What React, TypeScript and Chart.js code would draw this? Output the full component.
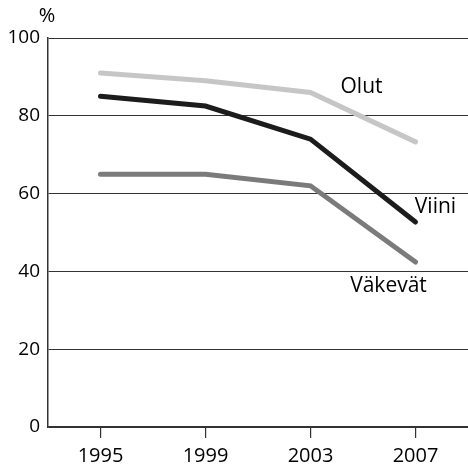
import React, { useEffect, useRef } from "react";
import { Chart, registerables } from "chart.js";

Chart.register(...registerables);

const years = ["1995", "1999", "2003", "2007"];
const olut = [91, 89, 86, 73.3];
const viini = [85, 82.5, 74, 52.7];
const vakevat = [65, 65, 62, 42.4];
const seriesNames = ["Olut", "Viini", "Väkevät"];
const yTicks = [0, 20, 40, 60, 80, 100];

const FONT = "'Open Sans', 'DejaVu Sans', sans-serif";

const labelPlugin = {
  id: "lineLabels",
  afterDatasetsDraw(chart: any) {
    const ctx = chart.ctx;
    const xs = chart.scales.x;
    const ys = chart.scales.y;
    ctx.save();
    ctx.fillStyle = "#000";
    ctx.font = `21px ${FONT}`;
    ctx.textAlign = "center";
    ctx.textBaseline = "middle";
    const last = years.length - 1;
    const offsets = [
      [-54, -55],
      [20, -15],
      [-27, 24],
    ];
    const data = [olut, viini, vakevat];
    seriesNames.forEach((n, i) => {
      const px = xs.getPixelForValue(last);
      const py = ys.getPixelForValue(data[i][last]);
      ctx.fillText(n, px + offsets[i][0], py + offsets[i][1]);
    });
    ctx.font = `20px ${FONT}`;
    ctx.fillText("%", chart.chartArea.left - 1, chart.chartArea.top - 22);
    ctx.restore();
  },
};

export default function App() {
  const ref = useRef<HTMLCanvasElement>(null);
  useEffect(() => {
    if (!ref.current) return;
    const chart = new Chart(ref.current, {
      type: "line",
      data: {
        labels: years,
        datasets: [
          { label: seriesNames[0], data: olut, borderColor: "#c6c6c6" },
          { label: seriesNames[1], data: viini, borderColor: "#1c1c1e" },
          { label: seriesNames[2], data: vakevat, borderColor: "#7b7b7b" },
        ].map((d) => ({
          ...d,
          borderWidth: 5,
          pointRadius: 0,
          tension: 0,
          fill: false,
          borderCapStyle: "round" as const,
        })),
      },
      options: {
        animation: false,
        responsive: false,
        layout: { padding: { top: 38, right: 0, left: 0, bottom: 0 } },
        plugins: { legend: { display: false }, tooltip: { enabled: false } },
        scales: {
          x: {
            type: "category",
            offset: true,
            grid: {
              drawOnChartArea: false,
              drawTicks: true,
              tickLength: 11,
              color: "#333",
              lineWidth: 1.2,
            },
            border: { display: true, color: "#333", width: 1.5 },
            ticks: { color: "#000", font: { family: FONT, size: 20 }, padding: 6, maxRotation: 0 },
            afterFit: (s: any) => {
              s.height = 40;
            },
          },
          y: {
            min: 0,
            max: 100,
            afterBuildTicks: (s: any) => {
              s.ticks = yTicks.map((v) => ({ value: v }));
            },
            grid: { drawTicks: false, color: "#333", lineWidth: 1 },
            border: { display: true, color: "#333", width: 1.5 },
            ticks: { color: "#000", font: { family: FONT, size: 19 }, padding: 8 },
            afterFit: (s: any) => {
              s.width = 48;
            },
          },
        },
      },
      plugins: [labelPlugin],
    });
    return () => chart.destroy();
  }, []);
  return (
    <div style={{ position: "fixed", left: 0, top: 0, width: 468, height: 467, background: "#fff" }}>
      <canvas ref={ref} width={468} height={467} style={{ display: "block" }} />
    </div>
  );
}
